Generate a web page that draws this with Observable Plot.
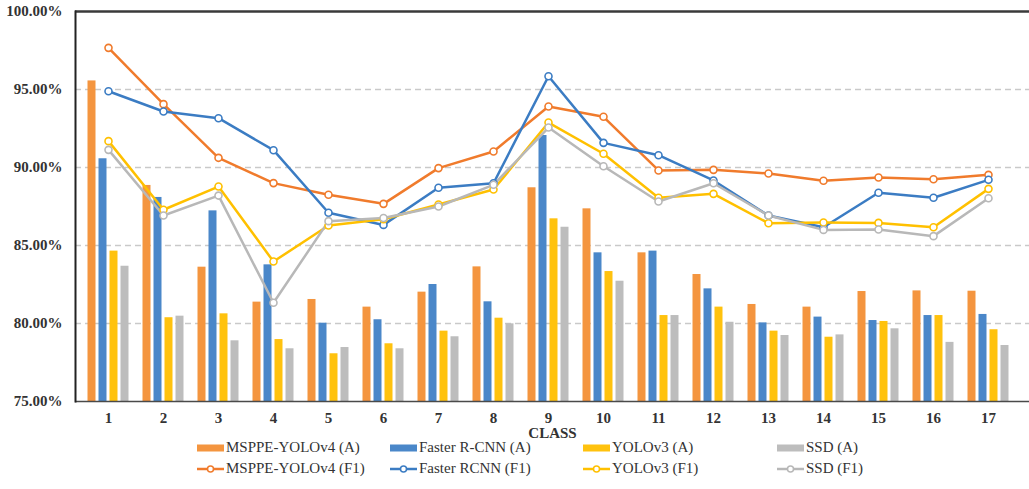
<!DOCTYPE html>
<html><head><meta charset="utf-8">
<script src="https://cdn.jsdelivr.net/npm/d3@7"></script>
<script src="https://cdn.jsdelivr.net/npm/@observablehq/plot@0.6"></script>
<style>
body{margin:0;background:#fff;font-family:"Liberation Serif","Times New Roman",serif;}
#chart svg{display:block;}
#chart svg text{font-family:"Liberation Serif","Times New Roman",serif !important;}
#legend{position:relative;width:1029px;height:44px;margin-top:-3px;color:#333;font-size:15px;}
.item{position:absolute;display:flex;align-items:center;height:21px;white-space:nowrap;}
.item svg{display:block;margin-right:2px;}
</style></head><body>
<div id="chart"></div>
<div id="legend"></div>
<script>
const classes = ["1","2","3","4","5","6","7","8","9","10","11","12","13","14","15","16","17"];
const seriesNames = ["MSPPE-YOLOv4","Faster R-CNN","YOLOv3","SSD"];
const lineNames = ["MSPPE-YOLOv4","Faster RCNN","YOLOv3","SSD"];
const mspA   = [95.55, 88.85, 83.61, 81.37, 81.54, 81.05, 82.01, 83.63, 88.70, 87.35, 84.53, 83.14, 81.22, 81.05, 82.05, 82.09, 82.07];
const frcnnA = [90.56, 88.08, 87.22, 83.76, 80.02, 80.24, 82.50, 81.39, 92.05, 84.53, 84.64, 82.22, 80.04, 80.41, 80.19, 80.51, 80.58];
const yolo3A = [84.64, 80.37, 80.62, 78.97, 78.06, 78.70, 79.51, 80.34, 86.71, 83.33, 80.51, 81.05, 79.51, 79.12, 80.13, 80.51, 79.60];
const ssdA   = [83.67, 80.47, 78.89, 78.38, 78.46, 78.38, 79.15, 79.98, 86.17, 82.71, 80.51, 80.08, 79.23, 79.27, 79.66, 78.79, 78.59];
const mspF1   = [97.67, 94.06, 90.62, 89.00, 88.25, 87.67, 89.96, 91.03, 93.91, 93.25, 89.81, 89.85, 89.62, 89.15, 89.36, 89.25, 89.53];
const frcnnF1 = [94.89, 93.59, 93.16, 91.11, 87.10, 86.32, 88.70, 88.99, 95.85, 91.58, 90.79, 89.17, 86.92, 86.17, 88.38, 88.06, 89.21];
const yolo3F1 = [91.69, 87.29, 88.78, 83.97, 86.28, 86.68, 87.63, 88.59, 92.88, 90.88, 88.06, 88.31, 86.43, 86.47, 86.45, 86.17, 88.63];
const ssdF1   = [91.13, 86.92, 88.20, 81.33, 86.56, 86.76, 87.50, 88.89, 92.56, 90.08, 87.82, 88.99, 86.92, 86.00, 86.03, 85.60, 88.03];
const yTicks = [75, 80, 85, 90, 95, 100];
const gridTicks = [80, 85, 90, 95];

const barColors  = ["#F4953F", "#4A87C9", "#FFC20E", "#BDBDBD"];
const lineColors = ["#F07B2C", "#3B7CC3", "#FFC000", "#B8B8B8"];
const barOffsets = [-16.5, -5.5, 5.5, 16.5];

const barSeries = [mspA, frcnnA, yolo3A, ssdA];
const lineSeries = [mspF1, frcnnF1, yolo3F1, ssdF1];
const toRows = arr => classes.map((c, i) => ({cls: c, v: arr[i]}));

const marks = [
  Plot.gridY(gridTicks, {stroke: "#c9c9c9", strokeOpacity: 1, strokeWidth: 1.5, strokeDasharray: "6,4"})
];
barSeries.forEach((arr, k) => {
  marks.push(Plot.barY(toRows(arr), {x: "cls", y1: 75, y2: "v", fill: barColors[k], dx: barOffsets[k]}));
});
lineSeries.forEach((arr, k) => {
  marks.push(Plot.line(toRows(arr), {x: "cls", y: "v", stroke: lineColors[k], strokeWidth: 2.5}));
});
lineSeries.forEach((arr, k) => {
  marks.push(Plot.dot(toRows(arr), {x: "cls", y: "v", r: 3.5, fill: "white", stroke: lineColors[k], strokeWidth: 1.6}));
});
marks.push(
  Plot.ruleY([100], {stroke: "#3a3a3a", strokeWidth: 2.5}),
  Plot.ruleY([75], {stroke: "#4a4a4a", strokeWidth: 1.5}),
  Plot.frame({anchor: "left", stroke: "#222", strokeWidth: 2}),
  Plot.axisY({ticks: yTicks, tickFormat: d => d.toFixed(2) + "%", tickSize: 0, tickPadding: 13, label: null, fontSize: 15, fontWeight: "bold"}),
  Plot.axisX({tickSize: 0, tickPadding: 11, label: "CLASS", labelAnchor: "center", labelArrow: "none", labelOffset: 36, fontSize: 15, fontWeight: "bold"})
);

const chart = Plot.plot({
  width: 1029,
  height: 440,
  marginTop: 11,
  marginBottom: 39,
  marginLeft: 75,
  marginRight: 0,
  style: {fontFamily: '"Liberation Serif","Times New Roman",serif', fontSize: "15px", color: "#333", background: "white"},
  x: {type: "band", domain: classes, range: [75, 1021], paddingInner: 0.856, paddingOuter: 0.428},
  y: {domain: [75, 100]},
  marks
});
document.getElementById("chart").appendChild(chart);

// legend
const legend = document.getElementById("legend");
const cols = [197, 390, 583, 777];
const rows = [0, 21];
function addItem(left, top, color, kind, text) {
  const div = document.createElement("div");
  div.className = "item";
  div.style.left = left + "px";
  div.style.top = top + "px";
  const s = d3.create("svg").attr("width", 27).attr("height", 12);
  if (kind === "bar") {
    s.append("rect").attr("x", 0).attr("y", 2.5).attr("width", 27).attr("height", 7).attr("fill", color);
  } else {
    s.append("line").attr("x1", 0).attr("x2", 27).attr("y1", 6).attr("y2", 6).attr("stroke", color).attr("stroke-width", 2.5);
    s.append("circle").attr("cx", 13.5).attr("cy", 6).attr("r", 3).attr("fill", "white").attr("stroke", color).attr("stroke-width", 1.5);
  }
  div.appendChild(s.node());
  const span = document.createElement("span");
  span.textContent = text;
  div.appendChild(span);
  legend.appendChild(div);
}
seriesNames.forEach((n, k) => addItem(cols[k], rows[0], barColors[k], "bar", n + " (A)"));
lineNames.forEach((n, k) => addItem(cols[k], rows[1], lineColors[k], "line", n + " (F1)"));
</script>
</body></html>
